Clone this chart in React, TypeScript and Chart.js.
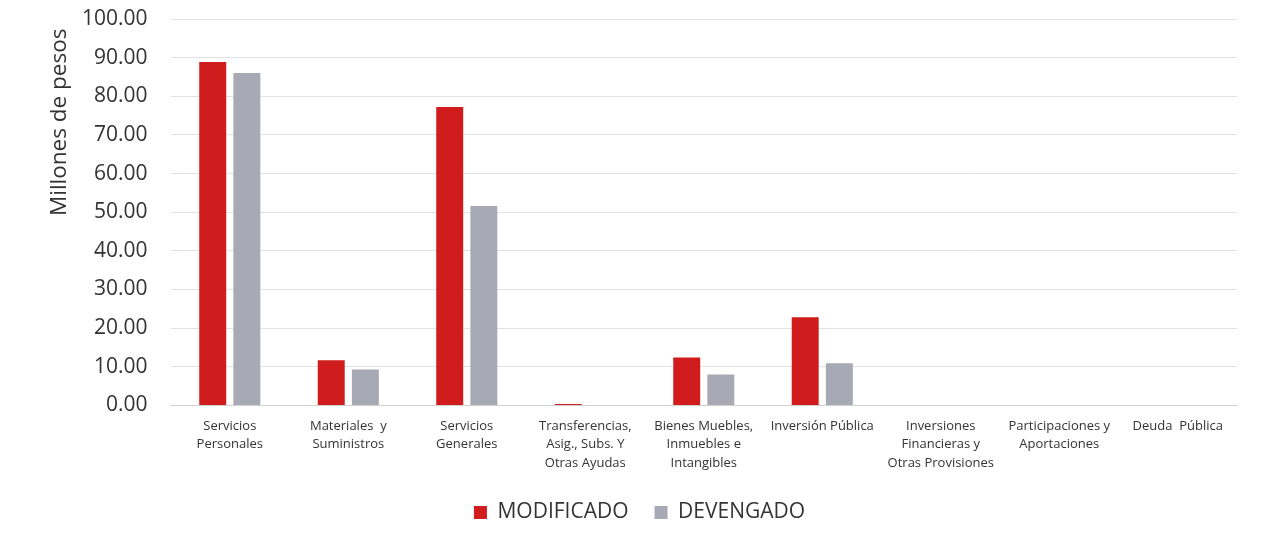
import React, { useEffect, useRef } from "react";
import { Chart, registerables } from "chart.js";

Chart.register(...registerables);

const categories: string[][] = [
  ["Servicios", "Personales"],
  ["Materiales  y", "Suministros"],
  ["Servicios", "Generales"],
  ["Transferencias,", "Asig., Subs. Y", "Otras Ayudas"],
  ["Bienes Muebles,", "Inmuebles e", "Intangibles"],
  ["Inversión Pública"],
  ["Inversiones", "Financieras y", "Otras Provisiones"],
  ["Participaciones y", "Aportaciones"],
  ["Deuda  Pública"],
];

const modificado: number[] = [88.9, 11.7, 77.2, 0.4, 12.4, 22.8, 0, 0, 0];
const devengado: number[] = [86.0, 9.3, 51.6, 0, 8.0, 10.9, 0, 0, 0];

const yTicks: number[] = [0, 10, 20, 30, 40, 50, 60, 70, 80, 90, 100];

const FONT = "'Open Sans', 'Noto Sans', sans-serif";

export default function App() {
  const ref = useRef<HTMLCanvasElement | null>(null);

  useEffect(() => {
    document.body.style.margin = "0";
    if (!ref.current) return;
    const chart = new Chart(ref.current, {
      type: "bar",
      data: {
        labels: categories,
        datasets: [
          {
            label: "MODIFICADO",
            data: modificado,
            backgroundColor: "#d01c1c",
            barPercentage: 0.79,
            categoryPercentage: 0.576,
          },
          {
            label: "DEVENGADO",
            data: devengado,
            backgroundColor: "#a7a9b4",
            barPercentage: 0.79,
            categoryPercentage: 0.576,
          },
        ],
      },
      options: {
        animation: false,
        responsive: false,
        maintainAspectRatio: false,
        layout: { padding: { top: 19, right: 28, bottom: 14, left: 42 } },
        plugins: {
          legend: {
            position: "bottom",
            labels: {
              font: { family: FONT, size: 21 },
              color: "#333",
              boxWidth: 13,
              boxHeight: 13,
              padding: 26,
            },
          },
          tooltip: { enabled: false },
        },
        scales: {
          x: {
            grid: { display: false },
            border: { color: "#d0d0d0" },
            ticks: {
              font: { family: FONT, size: 13, lineHeight: 1.45 },
              color: "#333",
              maxRotation: 0,
              autoSkip: false,
              padding: 3,
            },
          },
          y: {
            min: 0,
            max: 100,
            afterBuildTicks: (axis: any) => {
              axis.ticks = yTicks.map((v) => ({ value: v }));
            },
            grid: {
              color: "#e2e2e2",
              drawTicks: true,
              tickLength: 23,
              tickColor: "rgba(0,0,0,0)",
            },
            border: { display: false },
            ticks: {
              font: { family: FONT, size: 21, lineHeight: 1 },
              color: "#333",
              padding: 0,
              callback: (v: any) => Number(v).toFixed(2),
            },
            title: {
              display: true,
              text: "Millones de pesos\u00A0\u2009",
              align: "end",
              font: { family: FONT, size: 22.5 },
              color: "#333",
              padding: { top: 4, bottom: 9 },
            },
          },
        },
      },
    });
    return () => chart.destroy();
  }, []);

  return (
    <div style={{ position: "fixed", left: 0, top: 0, width: 1265, height: 547, background: "#fff" }}>
      <canvas ref={ref} width={1265} height={547} style={{ width: 1265, height: 547 }} />
    </div>
  );
}
